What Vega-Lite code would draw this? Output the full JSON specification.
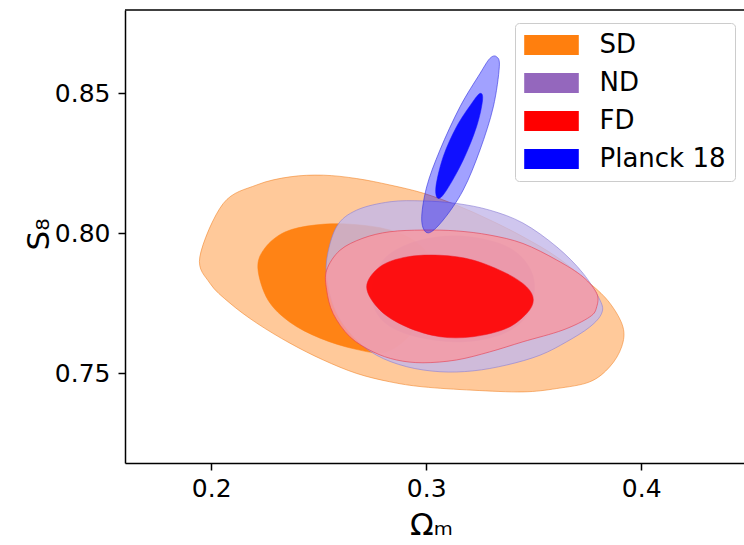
{
  "$schema": "https://vega.github.io/schema/vega-lite/v6.json",
  "autosize": "none",
  "width": 619,
  "height": 453,
  "padding": {"left": 125, "top": 10, "right": 0, "bottom": 82},
  "background": "white",
  "view": {"stroke": null},
  "config": {
    "font": "DejaVu Sans",
    "axis": {"domainColor": "#000", "domainWidth": 1.5, "tickColor": "#000", "tickWidth": 1.5, "tickSize": 7, "labelColor": "#000", "titleColor": "#000", "grid": false, "labelFont": "DejaVu Sans", "titleFont": "DejaVu Sans", "titleFontWeight": "normal", "labelFlush": false}
  },
  "datasets": {
    "contours": [
      {"s":"SDo","i":0,"x":0.1947,"y":0.7916},{"s":"SDo","i":1,"x":0.1994,"y":0.7822},{"s":"SDo","i":2,"x":0.2087,"y":0.7751},{"s":"SDo","i":3,"x":0.2211,"y":0.7680},{"s":"SDo","i":4,"x":0.2366,"y":0.7608},{"s":"SDo","i":5,"x":0.2521,"y":0.7548},{"s":"SDo","i":6,"x":0.2676,"y":0.7500},{"s":"SDo","i":7,"x":0.2831,"y":0.7470},{"s":"SDo","i":8,"x":0.2985,"y":0.7452},{"s":"SDo","i":9,"x":0.3217,"y":0.7440},{"s":"SDo","i":10,"x":0.3450,"y":0.7434},{"s":"SDo","i":11,"x":0.3607,"y":0.7446},{"s":"SDo","i":12,"x":0.3761,"y":0.7470},{"s":"SDo","i":13,"x":0.3854,"y":0.7524},{"s":"SDo","i":14,"x":0.3909,"y":0.7595},{"s":"SDo","i":15,"x":0.3915,"y":0.7666},{"s":"SDo","i":16,"x":0.3854,"y":0.7751},{"s":"SDo","i":17,"x":0.3761,"y":0.7822},{"s":"SDo","i":18,"x":0.3607,"y":0.7916},{"s":"SDo","i":19,"x":0.3450,"y":0.7988},{"s":"SDo","i":20,"x":0.3296,"y":0.8048},{"s":"SDo","i":21,"x":0.3141,"y":0.8101},{"s":"SDo","i":22,"x":0.2985,"y":0.8144},{"s":"SDo","i":23,"x":0.2831,"y":0.8173},{"s":"SDo","i":24,"x":0.2676,"y":0.8196},{"s":"SDo","i":25,"x":0.2521,"y":0.8208},{"s":"SDo","i":26,"x":0.2366,"y":0.8202},{"s":"SDo","i":27,"x":0.2211,"y":0.8173},{"s":"SDo","i":28,"x":0.2056,"y":0.8107},
      {"s":"SDi","i":0,"x":0.2217,"y":0.7876},{"s":"SDi","i":1,"x":0.2250,"y":0.7948},{"s":"SDi","i":2,"x":0.2343,"y":0.8005},{"s":"SDi","i":3,"x":0.2482,"y":0.8030},{"s":"SDi","i":4,"x":0.2645,"y":0.8033},{"s":"SDi","i":5,"x":0.2831,"y":0.8012},{"s":"SDi","i":6,"x":0.2971,"y":0.7958},{"s":"SDi","i":7,"x":0.3040,"y":0.7869},{"s":"SDi","i":8,"x":0.3017,"y":0.7744},{"s":"SDi","i":9,"x":0.2924,"y":0.7637},{"s":"SDi","i":10,"x":0.2808,"y":0.7576},{"s":"SDi","i":11,"x":0.2668,"y":0.7587},{"s":"SDi","i":12,"x":0.2506,"y":0.7626},{"s":"SDi","i":13,"x":0.2366,"y":0.7683},{"s":"SDi","i":14,"x":0.2264,"y":0.7762},
      {"s":"NDo","i":0,"x":0.2537,"y":0.7905},{"s":"NDo","i":1,"x":0.2583,"y":0.8024},{"s":"NDo","i":2,"x":0.2676,"y":0.8083},{"s":"NDo","i":3,"x":0.2831,"y":0.8113},{"s":"NDo","i":4,"x":0.2985,"y":0.8116},{"s":"NDo","i":5,"x":0.3141,"y":0.8107},{"s":"NDo","i":6,"x":0.3296,"y":0.8083},{"s":"NDo","i":7,"x":0.3450,"y":0.8037},{"s":"NDo","i":8,"x":0.3607,"y":0.7952},{"s":"NDo","i":9,"x":0.3729,"y":0.7858},{"s":"NDo","i":10,"x":0.3808,"y":0.7762},{"s":"NDo","i":11,"x":0.3816,"y":0.7715},{"s":"NDo","i":12,"x":0.3761,"y":0.7666},{"s":"NDo","i":13,"x":0.3653,"y":0.7613},{"s":"NDo","i":14,"x":0.3529,"y":0.7565},{"s":"NDo","i":15,"x":0.3374,"y":0.7530},{"s":"NDo","i":16,"x":0.3217,"y":0.7509},{"s":"NDo","i":17,"x":0.3064,"y":0.7506},{"s":"NDo","i":18,"x":0.2909,"y":0.7524},{"s":"NDo","i":19,"x":0.2769,"y":0.7565},{"s":"NDo","i":20,"x":0.2660,"y":0.7631},{"s":"NDo","i":21,"x":0.2583,"y":0.7714},{"s":"NDo","i":22,"x":0.2544,"y":0.7809},
      {"s":"NDi","i":0,"x":0.2747,"y":0.7798},{"s":"NDi","i":1,"x":0.2808,"y":0.7912},{"s":"NDi","i":2,"x":0.2971,"y":0.7976},{"s":"NDi","i":3,"x":0.3180,"y":0.7990},{"s":"NDi","i":4,"x":0.3389,"y":0.7948},{"s":"NDi","i":5,"x":0.3496,"y":0.7851},{"s":"NDi","i":6,"x":0.3482,"y":0.7726},{"s":"NDi","i":7,"x":0.3366,"y":0.7644},{"s":"NDi","i":8,"x":0.3157,"y":0.7612},{"s":"NDi","i":9,"x":0.2924,"y":0.7637},{"s":"NDi","i":10,"x":0.2785,"y":0.7698},
      {"s":"FDo","i":0,"x":0.2537,"y":0.7869},{"s":"FDo","i":1,"x":0.2599,"y":0.7940},{"s":"FDo","i":2,"x":0.2706,"y":0.7983},{"s":"FDo","i":3,"x":0.2831,"y":0.8006},{"s":"FDo","i":4,"x":0.2985,"y":0.8012},{"s":"FDo","i":5,"x":0.3141,"y":0.8009},{"s":"FDo","i":6,"x":0.3296,"y":0.7994},{"s":"FDo","i":7,"x":0.3450,"y":0.7964},{"s":"FDo","i":8,"x":0.3607,"y":0.7905},{"s":"FDo","i":9,"x":0.3729,"y":0.7845},{"s":"FDo","i":10,"x":0.3793,"y":0.7786},{"s":"FDo","i":11,"x":0.3793,"y":0.7738},{"s":"FDo","i":12,"x":0.3761,"y":0.7702},{"s":"FDo","i":13,"x":0.3636,"y":0.7655},{"s":"FDo","i":14,"x":0.3450,"y":0.7613},{"s":"FDo","i":15,"x":0.3296,"y":0.7577},{"s":"FDo","i":16,"x":0.3141,"y":0.7548},{"s":"FDo","i":17,"x":0.2985,"y":0.7538},{"s":"FDo","i":18,"x":0.2862,"y":0.7548},{"s":"FDo","i":19,"x":0.2753,"y":0.7577},{"s":"FDo","i":20,"x":0.2645,"y":0.7631},{"s":"FDo","i":21,"x":0.2567,"y":0.7714},{"s":"FDo","i":22,"x":0.2537,"y":0.7798},
      {"s":"FDi","i":0,"x":0.2723,"y":0.7809},{"s":"FDi","i":1,"x":0.2785,"y":0.7881},{"s":"FDi","i":2,"x":0.2909,"y":0.7916},{"s":"FDi","i":3,"x":0.3064,"y":0.7922},{"s":"FDi","i":4,"x":0.3217,"y":0.7905},{"s":"FDi","i":5,"x":0.3374,"y":0.7857},{"s":"FDi","i":6,"x":0.3467,"y":0.7809},{"s":"FDi","i":7,"x":0.3498,"y":0.7762},{"s":"FDi","i":8,"x":0.3467,"y":0.7714},{"s":"FDi","i":9,"x":0.3374,"y":0.7661},{"s":"FDi","i":10,"x":0.3217,"y":0.7631},{"s":"FDi","i":11,"x":0.3064,"y":0.7631},{"s":"FDi","i":12,"x":0.2909,"y":0.7666},{"s":"FDi","i":13,"x":0.2785,"y":0.7726},
      {"s":"Po","i":0,"x":0.3327,"y":0.8631},{"s":"Po","i":1,"x":0.3340,"y":0.8595},{"s":"Po","i":2,"x":0.3312,"y":0.8452},{"s":"Po","i":3,"x":0.3250,"y":0.8298},{"s":"Po","i":4,"x":0.3172,"y":0.8155},{"s":"Po","i":5,"x":0.3079,"y":0.8048},{"s":"Po","i":6,"x":0.3009,"y":0.8002},{"s":"Po","i":7,"x":0.2979,"y":0.8048},{"s":"Po","i":8,"x":0.3002,"y":0.8166},{"s":"Po","i":9,"x":0.3064,"y":0.8298},{"s":"Po","i":10,"x":0.3157,"y":0.8452},{"s":"Po","i":11,"x":0.3250,"y":0.8571},{"s":"Po","i":12,"x":0.3296,"y":0.8625},
      {"s":"Pi","i":0,"x":0.3250,"y":0.8500},{"s":"Pi","i":1,"x":0.3262,"y":0.8476},{"s":"Pi","i":2,"x":0.3234,"y":0.8381},{"s":"Pi","i":3,"x":0.3172,"y":0.8262},{"s":"Pi","i":4,"x":0.3095,"y":0.8155},{"s":"Pi","i":5,"x":0.3056,"y":0.8125},{"s":"Pi","i":6,"x":0.3045,"y":0.8166},{"s":"Pi","i":7,"x":0.3079,"y":0.8274},{"s":"Pi","i":8,"x":0.3141,"y":0.8381},{"s":"Pi","i":9,"x":0.3211,"y":0.8464}
    ]
  },
  "data": {"name": "contours"},
  "layer": [
    {
      "encoding": {
        "x": {"field": "x", "type": "quantitative", "scale": {"domain": [0.1599, 0.4478], "nice": false, "zero": false},
          "axis": {"values": [0.2, 0.3, 0.4], "format": ".1f", "labelFontSize": 25, "labelPadding": 6, "title": "Ωₘ", "titleFontSize": 31, "titleX": 306, "titleY": 71, "titleBaseline": "alphabetic"}},
        "y": {"field": "y", "type": "quantitative", "scale": {"domain": [0.718, 0.8798], "nice": false, "zero": false},
          "axis": {"values": [0.75, 0.8, 0.85], "format": ".2f", "labelFontSize": 25, "labelPadding": 8, "title": "S₈", "titleFontSize": 31, "titleX": -77, "titleY": 224, "titleAngle": -90, "titleAlign": "center", "titleBaseline": "alphabetic"}},
        "order": {"field": "i", "type": "quantitative"}
      },
      "layer": [
        {"transform": [{"filter": "datum.s == 'SDo'"}],
         "mark": {"type": "line", "interpolate": "cardinal-closed", "fill": "#ff7f0e", "fillOpacity": 0.42, "stroke": "#f08020", "strokeWidth": 1, "strokeOpacity": 0.55}},
        {"transform": [{"filter": "datum.s == 'SDi'"}],
         "mark": {"type": "line", "interpolate": "cardinal-closed", "fillOpacity": 0.95, "stroke": "#ff7f0e", "strokeWidth": 0.5},
         "encoding": {"fill": {"datum": "SD", "type": "nominal", "scale": {"domain": ["SD", "ND", "FD", "Planck 18"], "range": ["#ff7f0e", "#9467bd", "#ff0000", "#0000ff"]},
           "legend": {"title": null, "orient": "none", "legendX": 390, "legendY": 13, "fillColor": "white", "strokeColor": "#cccccc", "cornerRadius": 4, "padding": 9, "symbolType": "M-2.1,-0.77L2.1,-0.77L2.1,0.77L-2.1,0.77Z", "symbolSize": 676, "symbolStrokeWidth": 0, "symbolOpacity": 1, "symbolOffset": 14.5, "labelFontSize": 26, "labelFont": "DejaVu Sans", "labelColor": "#000", "labelOffset": 35, "rowPadding": 12}}}},
        {"transform": [{"filter": "datum.s == 'NDo'"}],
         "mark": {"type": "line", "interpolate": "cardinal-closed", "fill": "#c3b8ea", "fillOpacity": 0.8, "stroke": "#8a7ed6", "strokeWidth": 1, "strokeOpacity": 0.6}},
        {"transform": [{"filter": "datum.s == 'NDi'"}],
         "mark": {"type": "line", "interpolate": "cardinal-closed", "fillOpacity": 0.45, "stroke": "#a58fd6", "strokeWidth": 0.5, "strokeOpacity": 0.4},
         "encoding": {"fill": {"datum": "ND", "type": "nominal"}}},
        {"transform": [{"filter": "datum.s == 'FDo'"}],
         "mark": {"type": "line", "interpolate": "cardinal-closed", "fill": "#f59aa5", "fillOpacity": 0.85, "stroke": "#e83a4c", "strokeWidth": 1, "strokeOpacity": 0.6}},
        {"transform": [{"filter": "datum.s == 'FDi'"}],
         "mark": {"type": "line", "interpolate": "cardinal-closed", "fillOpacity": 0.9, "stroke": "#ee1520", "strokeWidth": 0.5},
         "encoding": {"fill": {"datum": "FD", "type": "nominal"}}},
        {"transform": [{"filter": "datum.s == 'Po'"}],
         "mark": {"type": "line", "interpolate": "cardinal-closed", "fill": "#0000ff", "fillOpacity": 0.37, "stroke": "#3030e0", "strokeWidth": 1, "strokeOpacity": 0.6}},
        {"transform": [{"filter": "datum.s == 'Pi'"}],
         "mark": {"type": "line", "interpolate": "cardinal-closed", "fillOpacity": 0.9, "stroke": "#1010ff", "strokeWidth": 0.5},
         "encoding": {"fill": {"datum": "Planck 18", "type": "nominal"}}}
      ]
    },
    {"data": {"values": [{}]},
     "mark": {"type": "rule", "color": "#000", "strokeWidth": 1.5},
     "encoding": {"y": {"datum": 0.8798, "type": "quantitative"}}}
  ]
}
